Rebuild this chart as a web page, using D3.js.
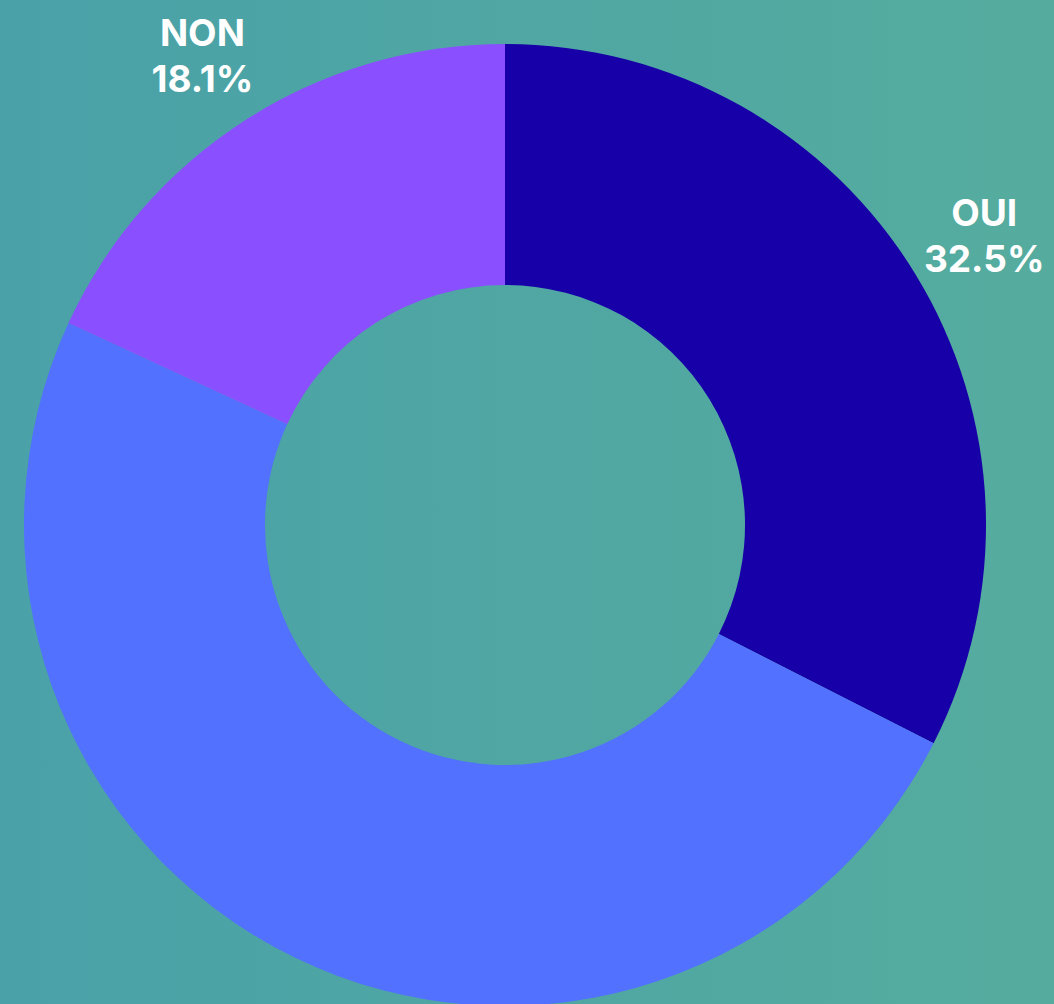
<!DOCTYPE html>
<html>
<head>
<meta charset="utf-8">
<script src="https://cdn.jsdelivr.net/npm/d3@7"></script>
<style>
  html, body { margin: 0; padding: 0; overflow: hidden; }
  svg { display: block; }
</style>
</head>
<body>
<svg id="chart"></svg>
<script>
var width = 1054;
var height = 1004;

// chart data
var labels = ["OUI", "SANS AVIS", "NON"];
var values = [32.5, 49.4, 18.1];
var colors = ["#1700a8", "#5271ff", "#8a50ff"];

var cx = 505, cy = 525;
var outerR = 481, innerR = 240, labelR = 562;

var svg = d3.select("#chart")
    .attr("width", width)
    .attr("height", height);

// background gradient, slightly bluer on the left
var grad = svg.append("defs").append("linearGradient")
    .attr("id", "bg")
    .attr("x1", "0%").attr("x2", "100%")
    .attr("y1", "0%").attr("y2", "0%");
grad.append("stop").attr("offset", "0%").attr("stop-color", "#4aa1a8");
grad.append("stop").attr("offset", "100%").attr("stop-color", "#55ac9e");

svg.append("rect")
    .attr("width", width)
    .attr("height", height)
    .attr("fill", "url(#bg)");

var data = labels.map(function(l, i) { return {label: l, value: values[i], color: colors[i]}; });

var pie = d3.pie()
    .sort(null)
    .value(function(d) { return d.value; });

var arc = d3.arc()
    .innerRadius(innerR)
    .outerRadius(outerR);

var labelArc = d3.arc()
    .innerRadius(labelR)
    .outerRadius(labelR);

var g = svg.append("g")
    .attr("transform", "translate(" + cx + "," + cy + ")");

var slices = pie(data);

g.selectAll("path")
    .data(slices)
    .enter().append("path")
    .attr("d", arc)
    .attr("fill", function(d) { return d.data.color; });

// labels sit outside the ring; the one below the chart falls off the page, so skip it
var lab = g.selectAll("text.lab")
    .data(slices.filter(function(d) { return cy + labelArc.centroid(d)[1] < height; }))
    .enter().append("text")
    .attr("class", "lab")
    .attr("transform", function(d) { return "translate(" + labelArc.centroid(d) + ")"; })
    .attr("text-anchor", "middle")
    .style("font-family", "Inter, 'Noto Sans', sans-serif")
    .style("font-weight", 700)
    .style("font-size", "37px")
    .style("fill", "#ffffff");

lab.append("tspan")
    .attr("x", 0)
    .attr("y", -5)
    .text(function(d) { return d.data.label; });

lab.append("tspan")
    .attr("x", 0)
    .attr("y", 41)
    .text(function(d) { return d.data.value.toFixed(1) + "%"; });
</script>
</body>
</html>
